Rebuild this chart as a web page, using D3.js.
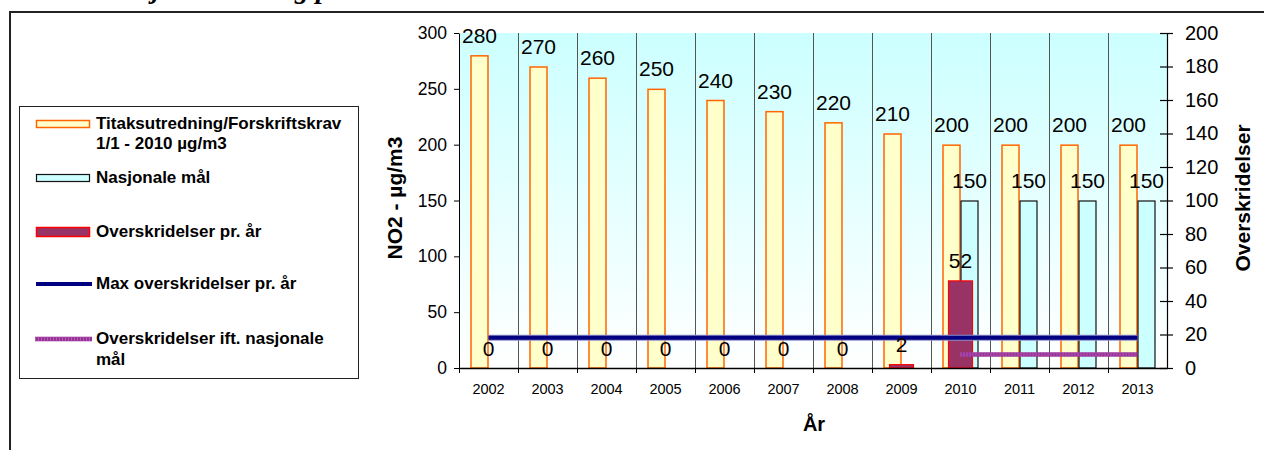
<!DOCTYPE html>
<html>
<head>
<meta charset="utf-8">
<script src="https://cdn.jsdelivr.net/npm/d3@7"></script>
<style>
  html, body { margin: 0; padding: 0; background: #fff; }
  svg { display: block; }
  text { font-family: "Liberation Sans", Arial, sans-serif; }
</style>
</head>
<body>
<svg id="chart" width="1264" height="450"></svg>
<script>
// ---- data ----
const years = ["2002","2003","2004","2005","2006","2007","2008","2009","2010","2011","2012","2013"];
const tiltak = [280,270,260,250,240,230,220,210,200,200,200,200];
const nasjonale = [null,null,null,null,null,null,null,null,150,150,150,150];
const overskridelser = [0,0,0,0,0,0,0,2,52,null,null,null];
const maxOverskridelser = [18,18,18,18,18,18,18,18,18,18,18,18];
const overNasjonale = [null,null,null,null,null,null,null,null,8,8,8,8];
const leftTicks = [0,50,100,150,200,250,300];
const rightTicks = [0,20,40,60,80,100,120,140,160,180,200];
const legendItems = [
  {lines:["Titaksutredning/Forskriftskrav","1/1 - 2010 µg/m3"], type:"tiltak"},
  {lines:["Nasjonale mål"], type:"nasjonale"},
  {lines:["Overskridelser pr. år"], type:"over"},
  {lines:["Max overskridelser pr. år"], type:"max"},
  {lines:["Overskridelser ift. nasjonale","mål"], type:"overNasj"}
];

const C = {
  tiltakFill:"#FFFFCC", tiltakStroke:"#FF6600",
  nasjFill:"#CCFFFF", nasjStroke:"#111111",
  overFill:"#993366", overStroke:"#FF0000",
  max:"#000080", overNasj:"#993399", overNasjDot:"#c070c0"
};

const svg = d3.select("#chart");

// title (clipped at top)
svg.append("text").attr("x",20).attr("y",-2)
  .style("font-family","'Liberation Serif','DejaVu Serif',serif")
  .style("font-weight","bold").style("font-style","italic").style("font-size","28px")
  .text("Tabell: Nasjonale mål og plan NO2");

// outer frame
svg.append("rect").attr("x",10).attr("y",12).attr("width",1300).attr("height",500)
  .attr("fill","none").attr("stroke","#222").attr("stroke-width",2);

// scales
const x = d3.scaleBand().domain(years).range([459,1167]).paddingInner(0).paddingOuter(0);
const bw = x.bandwidth();
const xSub = d3.scaleBand().domain(["tiltak","nasjonale"]).range([bw/2-18, bw/2+18]);
const yL = d3.scaleLinear().domain([0,300]).range([368,33]);
const yR = d3.scaleLinear().domain([0,200]).range([368,33]);

// plot background gradient
const defs = svg.append("defs");
const grad = defs.append("linearGradient").attr("id","bg").attr("x1",0).attr("y1",0).attr("x2",0).attr("y2",1);
grad.append("stop").attr("offset","0%").attr("stop-color","#CCFFFF");
grad.append("stop").attr("offset","100%").attr("stop-color","#FFFFFF");
svg.append("rect").attr("x",x.range()[0]).attr("y",yL(300)).attr("width",x.range()[1]-x.range()[0])
  .attr("height",yL(0)-yL(300)).attr("fill","url(#bg)");

// vertical gridlines at category boundaries
svg.append("g").selectAll("line").data(years.slice(1)).join("line")
  .attr("x1",d=>Math.round(x(d))+0.5).attr("x2",d=>Math.round(x(d))+0.5)
  .attr("y1",yL(300)).attr("y2",yL(0))
  .attr("stroke","#555").attr("stroke-width",1);

const rows = years.map((y,i)=>({year:y, tiltak:tiltak[i], nasj:nasjonale[i], over:overskridelser[i], max:maxOverskridelser[i], overNasj:overNasjonale[i]}));

// tiltak bars
svg.append("g").selectAll("rect").data(rows.filter(d=>d.tiltak!=null)).join("rect")
  .attr("x",d=>x(d.year)+xSub("tiltak")+0.5).attr("width",xSub.bandwidth()-1)
  .attr("y",d=>yL(d.tiltak)+0.5).attr("height",d=>yL(0)-yL(d.tiltak)-0.5)
  .attr("fill",C.tiltakFill).attr("stroke",C.tiltakStroke).attr("stroke-width",1.5);

// nasjonale bars
svg.append("g").selectAll("rect").data(rows.filter(d=>d.nasj!=null)).join("rect")
  .attr("x",d=>x(d.year)+xSub("nasjonale")+0.5).attr("width",xSub.bandwidth()-1)
  .attr("y",d=>yL(d.nasj)+0.5).attr("height",d=>yL(0)-yL(d.nasj)-0.5)
  .attr("fill",C.nasjFill).attr("stroke",C.nasjStroke).attr("stroke-width",1.2);

// overskridelser bars (secondary axis)
svg.append("g").selectAll("rect").data(rows.filter(d=>d.over!=null && d.over>0)).join("rect")
  .attr("x",d=>x(d.year)+bw/2-12).attr("width",24)
  .attr("y",d=>yR(d.over)).attr("height",d=>yR(0)-yR(d.over))
  .attr("fill",C.overFill).attr("stroke",C.overStroke).attr("stroke-width",1.2);

// lines
const lineGen = key => d3.line().defined(d=>d[key]!=null).x(d=>x(d.year)+bw/2).y(d=>yR(d[key]));
svg.append("path").datum(rows).attr("d",lineGen("max")).attr("fill","none")
  .attr("stroke","#8c8cc8").attr("stroke-width",6);
svg.append("path").datum(rows).attr("d",lineGen("max")).attr("fill","none")
  .attr("stroke",C.max).attr("stroke-width",4);
svg.append("path").datum(rows).attr("d",lineGen("overNasj")).attr("fill","none")
  .attr("stroke",C.overNasj).attr("stroke-width",4.5);
svg.append("path").datum(rows).attr("d",lineGen("overNasj")).attr("fill","none")
  .attr("stroke",C.overNasjDot).attr("stroke-width",4.5).attr("stroke-dasharray","1,2").attr("opacity",0.6);

// axes
const axL = svg.append("g").attr("transform",`translate(${x.range()[0]},0)`)
  .call(d3.axisLeft(yL).tickValues(leftTicks).tickSize(5).tickSizeOuter(0).tickPadding(7));
axL.selectAll("text").style("font-size","17.5px").attr("fill","#000");
axL.selectAll("line,path").attr("stroke","#000");

const axR = svg.append("g").attr("transform",`translate(${x.range()[1]},0)`)
  .call(d3.axisRight(yR).tickValues(rightTicks).tickSize(6).tickSizeOuter(0).tickPadding(12));
axR.selectAll(".tick line").attr("x1",-7);
axR.selectAll("text").style("font-size","20px").attr("fill","#000");
axR.selectAll("line,path").attr("stroke","#000").attr("stroke-width",1.2);

const axB = svg.append("g").attr("transform",`translate(0,${yL(0)})`)
  .call(d3.axisBottom(x).tickSize(0).tickSizeOuter(0).tickPadding(16));
axB.selectAll("text").style("font-size","14.5px").attr("fill","#000");
axB.select("path").attr("stroke","#000").attr("stroke-width",1.5);
axB.append("g").selectAll("line").data(years).join("line")
  .attr("x1",d=>Math.round(x(d))+0.5).attr("x2",d=>Math.round(x(d))+0.5)
  .attr("y1",0).attr("y2",5).attr("stroke","#000");

// data labels
const lbl = svg.append("g").style("font-size","21px").attr("text-anchor","middle").attr("fill","#000");
lbl.selectAll("text.t").data(rows.filter(d=>d.tiltak!=null)).join("text").attr("class","t")
  .attr("x",d=>x(d.year)+xSub("tiltak")+xSub.bandwidth()/2).attr("y",d=>yL(d.tiltak)-12.5).text(d=>d.tiltak);
lbl.selectAll("text.n").data(rows.filter(d=>d.nasj!=null)).join("text").attr("class","n")
  .attr("x",d=>x(d.year)+xSub("nasjonale")+xSub.bandwidth()/2).attr("y",d=>yL(d.nasj)-12.5).text(d=>d.nasj);
lbl.selectAll("text.o").data(rows.filter(d=>d.over!=null)).join("text").attr("class","o")
  .attr("x",d=>x(d.year)+bw/2).attr("y",d=>yR(d.over)-12.5).text(d=>d.over);

// axis titles
svg.append("text").attr("transform","translate(402,198) rotate(-90)").attr("text-anchor","middle")
  .style("font-size","21px").style("font-weight","bold").text("NO2 - µg/m3");
svg.append("text").attr("transform","translate(1250,198) rotate(-90)").attr("text-anchor","middle")
  .style("font-size","21px").style("font-weight","bold").text("Overskridelser");
svg.append("text").attr("x",814).attr("y",431).attr("text-anchor","middle")
  .style("font-size","20px").style("font-weight","bold").text("År");

// legend
const lg = svg.append("g");
lg.append("rect").attr("x",19.5).attr("y",106.5).attr("width",339).attr("height",272)
  .attr("fill","#fff").attr("stroke","#222").attr("stroke-width",1);
const legendBaselines = [[129,149],[183],[237],[289],[344,365]];
legendItems.forEach((it,i)=>{
  const b = legendBaselines[i];
  const cy = b[0]-5;
  if (it.type==="tiltak") {
    lg.append("rect").attr("x",36.5).attr("y",cy-3.5).attr("width",53).attr("height",7)
      .attr("fill",C.tiltakFill).attr("stroke",C.tiltakStroke).attr("stroke-width",1.5);
  } else if (it.type==="nasjonale") {
    lg.append("rect").attr("x",36.5).attr("y",cy-3.5).attr("width",53).attr("height",7)
      .attr("fill",C.nasjFill).attr("stroke",C.nasjStroke).attr("stroke-width",1.2);
  } else if (it.type==="over") {
    lg.append("rect").attr("x",36.5).attr("y",cy-4.5).attr("width",53).attr("height",9)
      .attr("fill",C.overFill).attr("stroke",C.overStroke).attr("stroke-width",1.5);
  } else if (it.type==="max") {
    lg.append("line").attr("x1",36).attr("x2",92).attr("y1",cy).attr("y2",cy)
      .attr("stroke",C.max).attr("stroke-width",4);
  } else {
    lg.append("line").attr("x1",35).attr("x2",92).attr("y1",cy).attr("y2",cy)
      .attr("stroke",C.overNasj).attr("stroke-width",4.5);
    lg.append("line").attr("x1",35).attr("x2",92).attr("y1",cy).attr("y2",cy)
      .attr("stroke",C.overNasjDot).attr("stroke-width",4.5).attr("stroke-dasharray","1,2").attr("opacity",0.6);
  }
  it.lines.forEach((t,j)=>{
    lg.append("text").attr("x",96).attr("y",b[j]).style("font-size","17px").style("font-weight","bold")
      .attr("fill","#000").text(t);
  });
});
</script>
</body>
</html>
